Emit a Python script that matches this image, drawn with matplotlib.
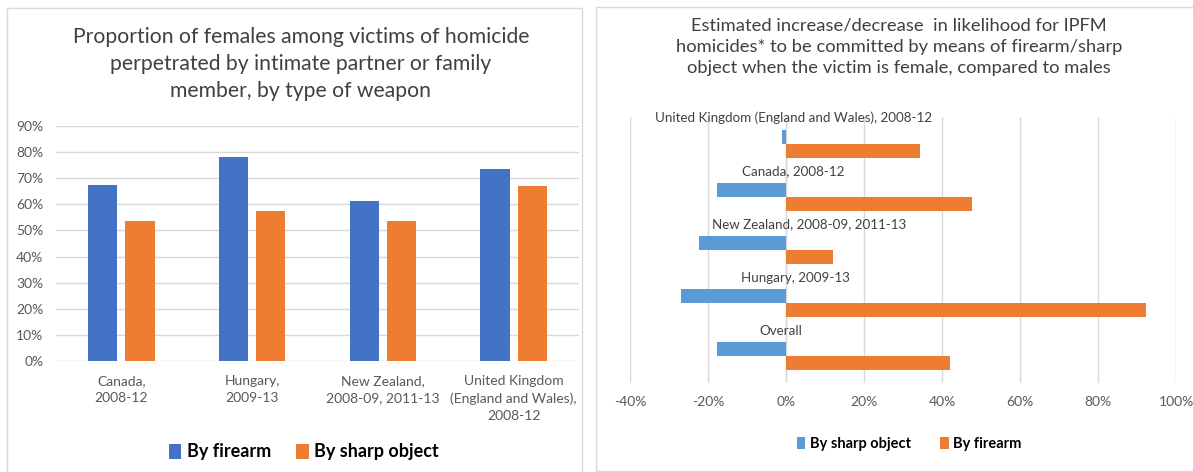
import matplotlib.pyplot as plt
from matplotlib.patches import Rectangle
import numpy as np

plt.rcParams['font.family'] = ['Lato', 'DejaVu Sans']

# left chart: share of female victims by weapon
countries = ['Canada,\n2008-12', 'Hungary,\n2009-13', 'New Zealand,\n2008-09, 2011-13',
             'United Kingdom\n(England and Wales),\n2008-12']
female_firearm = [67.3, 78.2, 61.2, 73.6]
female_sharp = [53.5, 57.4, 53.8, 66.9]

# right chart: change in likelihood when victim is female
groups = ['United Kingdom (England and Wales), 2008-12', 'Canada, 2008-12',
          'New Zealand, 2008-09, 2011-13', 'Hungary, 2009-13', 'Overall']
change_sharp = [-1.1, -17.8, -22.2, -26.9, -17.6]
change_firearm = [34.3, 47.6, 12.1, 92.2, 42.1]

W, H = 1193, 472
fig = plt.figure(figsize=(W / 100, H / 100), dpi=100)

BLUE = '#4472C4'
LBLUE = '#5B9BD5'
ORANGE = '#ED7D31'
GRID = '#D9D9D9'
TXT = '#595959'
TITLE = '#404040'


def px(x0, y0, x1, y1):
    # pixel box (top-left origin) -> figure fraction rect
    return [x0 / W, 1 - y1 / H, (x1 - x0) / W, (y1 - y0) / H]


# panel frames
fig.patches.append(Rectangle((7 / W, -0.01), (582 - 7) / W, 1 - 8 / H + 0.01,
                             transform=fig.transFigure, fill=False, ec=GRID, lw=1))
fig.patches.append(Rectangle((596 / W, 1 - 471 / H), (1200 - 596) / W, (471 - 7) / H,
                             transform=fig.transFigure, fill=False, ec=GRID, lw=1))

# ---- left: grouped column chart ----
ax1 = fig.add_axes(px(56, 126, 579, 361))
x = np.arange(len(countries))
bw = 0.224
ax1.bar(x - 0.143, female_firearm, bw, color=BLUE, label='By firearm', zorder=3)
ax1.bar(x + 0.143, female_sharp, bw, color=ORANGE, label='By sharp object', zorder=3)
ax1.set_xlim(-0.5, len(countries) - 0.5)
ax1.set_ylim(0, 90)
ax1.set_yticks(range(0, 91, 10))
ax1.set_yticklabels([f'{v}%' for v in range(0, 91, 10)])
ax1.set_xticks(x)
ax1.set_xticklabels(countries, linespacing=1.5)
ax1.grid(axis='y', color=GRID, lw=1, zorder=0)
for s in ax1.spines.values():
    s.set_visible(False)
ax1.tick_params(length=0, labelsize=10, labelcolor=TXT)
ax1.tick_params(axis='x', pad=10)
ax1.tick_params(axis='y', pad=9)
fig.text(301 / W, 1 - 64 / H,
         'Proportion of females among victims of homicide\nperpetrated by intimate partner or family\nmember, by type of weapon',
         ha='center', va='center', fontsize=15.2, color=TITLE, linespacing=1.45)
ax1.legend(loc='center', bbox_to_anchor=((304 - 56) / (579 - 56), (361 - 452) / (361 - 126)), ncol=2,
           frameon=False, handlelength=0.7, handleheight=0.9,
           handletextpad=0.3, columnspacing=1.4, prop={'weight': 'bold', 'size': 13})

# ---- right: horizontal bar chart ----
ax2 = fig.add_axes(px(630, 117, 1176, 383))
y = np.arange(len(groups))
bh = 0.263
ax2.barh(y - bh / 2, change_sharp, bh, color=LBLUE, label='By sharp object', zorder=3)
ax2.barh(y + bh / 2, change_firearm, bh, color=ORANGE, label='By firearm', zorder=3)
ax2.set_ylim(len(groups) - 0.5, -0.5)
ax2.set_xlim(-40, 100)
ax2.set_xticks(range(-40, 101, 20))
ax2.set_xticklabels([f'{v}%' for v in range(-40, 101, 20)])
ax2.set_yticks([])
ax2.grid(axis='x', color=GRID, lw=1, zorder=0)
for s in ax2.spines.values():
    s.set_visible(False)
ax2.axvline(0, color=GRID, lw=1, zorder=2)
ax2.tick_params(length=0, labelsize=10, labelcolor=TXT, pad=9)

label_x = [1.8, 1.8, 6.0, 2.3, -1.4]
for i, (name, lx) in enumerate(zip(groups, label_x)):
    ax2.text(lx, i - 0.48, name, ha='center', va='center', fontsize=9.6, color='#404040', zorder=4)

fig.text(899 / W, 1 - 47 / H,
         'Estimated increase/decrease  in likelihood for IPFM\nhomicides* to be committed by means of firearm/sharp\nobject when the victim is female, compared to males',
         ha='center', va='center', fontsize=13.2, color=TITLE, linespacing=1.4)
ax2.legend(loc='center', bbox_to_anchor=((909 - 630) / (1176 - 630), (383 - 444) / (383 - 117)),
           ncol=2, frameon=False, handlelength=0.6, handleheight=0.8,
           handletextpad=0.3, columnspacing=2.0, prop={'weight': 'bold', 'size': 10.5})

fig.savefig('out.png', dpi=100)
